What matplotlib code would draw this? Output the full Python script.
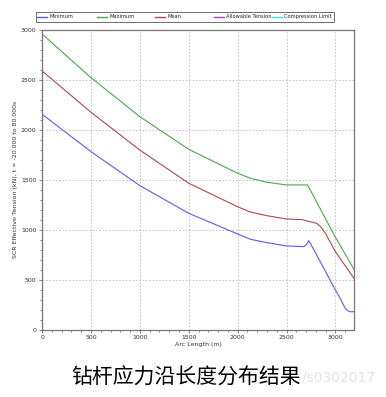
import matplotlib
matplotlib.use("Agg")
import matplotlib.pyplot as plt
from matplotlib.lines import Line2D
from matplotlib.patches import Rectangle
from matplotlib.ticker import MultipleLocator

# (arc length m -> effective tension kN)
arc_max = [0, 500, 1000, 1500, 2000, 2130, 2300, 2500, 2716, 3000, 3190]
ten_max = [2960, 2523, 2132, 1805, 1565, 1515, 1475, 1448, 1448, 924, 603]

arc_mean = [0, 500, 1000, 1500, 2000, 2130, 2300, 2500, 2665, 2723, 2808, 2850, 2900, 3000, 3190]
ten_mean = [2590, 2176, 1797, 1465, 1230, 1177, 1140, 1107, 1100, 1084, 1064, 1030, 960, 780, 513]

arc_min = [0, 500, 1000, 1500, 2000, 2130, 2300, 2500, 2680, 2710, 2727, 2745,
           3000, 3050, 3080, 3108, 3130, 3148, 3190]
ten_min = [2156, 1782, 1441, 1164, 957, 904, 870, 837, 830, 858, 890, 862,
           396, 310, 250, 202, 186, 178, 178]

legend_names = ["Minimum", "Maximum", "Mean", "Allowable Tension", "Compression Limit"]
legend_cols = ["#5a5aff", "#4aa84a", "#b04848", "#b040c0", "#40e0e0"]

W, H = 386, 397
fig = plt.figure(figsize=(W / 100, H / 100), dpi=100)
ax = fig.add_axes([0.109, 0.170, 0.808, 0.7544])

for xs, ys, col in [(arc_min, ten_min, legend_cols[0]),
                    (arc_max, ten_max, legend_cols[1]),
                    (arc_mean, ten_mean, legend_cols[2])]:
    ax.plot(xs, ys, color=col, lw=0.8)

ax.set_xlim(0, 3190)
ax.set_ylim(0, 3000)
ax.xaxis.set_major_locator(MultipleLocator(500))
ax.yaxis.set_major_locator(MultipleLocator(500))
ax.xaxis.set_minor_locator(MultipleLocator(100))
ax.yaxis.set_minor_locator(MultipleLocator(100))
ax.tick_params(which="both", labelsize=4.5, length=2, width=0.5, colors="#555555",
               labelcolor="#333333", pad=2)
ax.tick_params(which="minor", length=1.2)
ax.grid(True, which="major", ls=(0, (2, 2)), color="#bbbbbb", lw=0.6)
for s in ax.spines.values():
    s.set_color("#777777")
    s.set_linewidth(0.9)

ax.set_xlabel("Arc Length (m)", fontsize=4.5, labelpad=1.5, color="#333333")
ax.set_ylabel("SCR Effective Tension (kN), t = -20.000 to 80.000s", fontsize=4.5,
              labelpad=2, color="#333333")

# legend box drawn by hand so the columns sit where the reference has them
fig.patches.append(Rectangle((36 / W, 1 - 21.5 / H), 298 / W, 9.5 / H, transform=fig.transFigure,
                             fill=False, edgecolor="#555555", lw=0.6))
ly = 1 - 16.8 / H
for x0, name, col in zip([37, 97, 155, 214, 272], legend_names, legend_cols):
    fig.lines.append(Line2D([x0 / W, (x0 + 10) / W], [ly, ly], transform=fig.transFigure,
                            color=col, lw=1.0))
    fig.text((x0 + 12) / W, ly, name, fontsize=3.7, color="#222222", va="center", ha="left")

fig.text(0.972, 0.048, "/s0302017", fontsize=10, color="#e2e2e2", ha="right", va="center",
         family="DejaVu Sans")
fig.text(0.482, 0.048, "钻杆应力沿长度分布结果", fontsize=15, color="black", ha="center",
         va="center", family=["Noto Sans CJK SC", "DejaVu Sans"])

fig.savefig("out.png", dpi=100)
